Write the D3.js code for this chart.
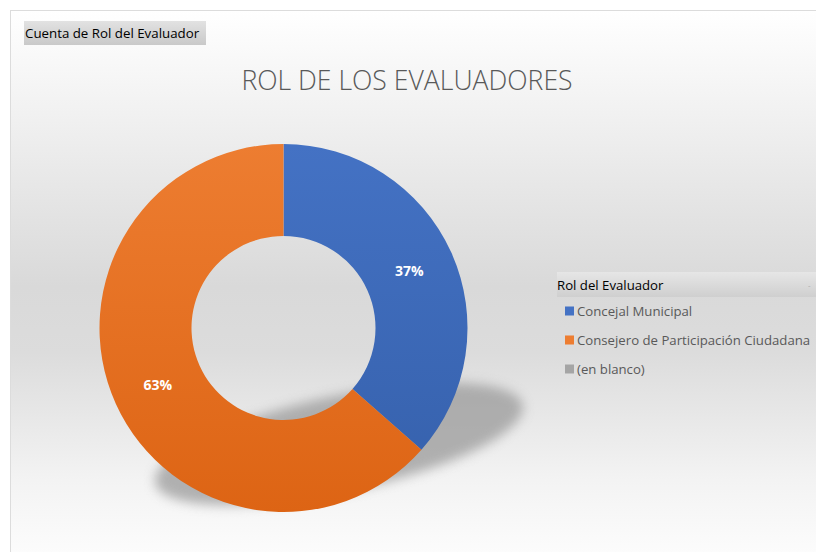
<!DOCTYPE html>
<html>
<head>
<meta charset="utf-8">
<script src="https://cdn.jsdelivr.net/npm/d3@7"></script>
<style>
  html, body { margin: 0; padding: 0; background: #fff; }
  svg { display: block; }
</style>
</head>
<body>
<div id="chart"></div>
<script>
// data
const categories = ["Concejal Municipal", "Consejero de Participación Ciudadana", "(en blanco)"];
const counts = [23, 40, 0];
const colors = ["#4472C4", "#ED7D31", "#A5A5A5"];
const darkColors = ["#3560AB", "#DD6414", "#8c8c8c"];
const title = "ROL DE LOS EVALUADORES";
const fieldLabel = "Cuenta de Rol del Evaluador";
const legendTitle = "Rol del Evaluador";

const W = 816, H = 552;
const cx = 283.5, cy = 328, outerR = 184, innerR = 92;

const svg = d3.select("#chart").append("svg")
  .attr("width", W)
  .attr("height", H);

const defs = svg.append("defs");

// chart area background: light top, grey middle, light bottom
const bg = defs.append("linearGradient")
  .attr("id", "bg").attr("x1", 0).attr("y1", 0).attr("x2", 0).attr("y2", 1);
[[0, "#ffffff"], [0.2, "#f0f0f0"], [0.5, "#d9d9d9"], [0.62, "#dcdcdc"], [0.85, "#f3f3f3"], [1, "#fdfdfd"]]
  .forEach(s => bg.append("stop").attr("offset", s[0]).attr("stop-color", s[1]));

const btn = defs.append("linearGradient")
  .attr("id", "btn").attr("x1", 0).attr("y1", 0).attr("x2", 0).attr("y2", 1);
btn.append("stop").attr("offset", 0).attr("stop-color", "#e2e2e2");
btn.append("stop").attr("offset", 1).attr("stop-color", "#c9c9c9");

const hdr = defs.append("linearGradient")
  .attr("id", "hdr").attr("x1", 0).attr("y1", 0).attr("x2", 0).attr("y2", 1);
hdr.append("stop").attr("offset", 0).attr("stop-color", "#e6e6e6");
hdr.append("stop").attr("offset", 1).attr("stop-color", "#cfcfcf");

// vertical gradient per slice, across the whole donut (local coords of the donut group)
colors.forEach((c, i) => {
  const g = defs.append("linearGradient")
    .attr("id", "slice" + i)
    .attr("gradientUnits", "userSpaceOnUse")
    .attr("x1", 0).attr("y1", -outerR).attr("x2", 0).attr("y2", outerR);
  g.append("stop").attr("offset", 0).attr("stop-color", c);
  g.append("stop").attr("offset", 1).attr("stop-color", darkColors[i]);
});

defs.append("filter").attr("id", "blur")
  .attr("x", "-20%").attr("y", "-50%").attr("width", "140%").attr("height", "200%")
  .append("feGaussianBlur").attr("stdDeviation", 6);

// outer frame
svg.append("rect")
  .attr("x", 10.5).attr("y", 10.5)
  .attr("width", W).attr("height", H)
  .attr("fill", "url(#bg)")
  .attr("stroke", "#dcdcdc");

// field button top-left
svg.append("rect")
  .attr("x", 24).attr("y", 21).attr("width", 182).attr("height", 24)
  .attr("fill", "url(#btn)");
svg.append("text")
  .attr("x", 25).attr("y", 38)
  .attr("font-family", "Open Sans, sans-serif")
  .attr("font-size", 13.3)
  .attr("fill", "#000")
  .text(fieldLabel);

// title
svg.append("text")
  .attr("x", 407).attr("y", 90)
  .attr("text-anchor", "middle")
  .attr("font-family", "Open Sans, sans-serif")
  .attr("font-weight", 300)
  .attr("font-size", 26.6)
  .attr("fill", "#595959")
  .text(title);

// perspective shadow
svg.append("ellipse")
  .attr("cx", 339).attr("cy", 444)
  .attr("rx", 188).attr("ry", 48)
  .attr("transform", "rotate(-12 339 444)")
  .attr("fill", "#9a9a9a")
  .attr("opacity", 0.75)
  .attr("filter", "url(#blur)");

const total = d3.sum(counts);
const pie = d3.pie().sort(null).value(d => d)(counts);
const arc = d3.arc().innerRadius(innerR).outerRadius(outerR);
const midR = (innerR + outerR) / 2;
const labelArc = d3.arc().innerRadius(midR).outerRadius(midR);

const donut = svg.append("g").attr("transform", `translate(${cx},${cy})`);

donut.selectAll("path")
  .data(pie.filter(d => d.value > 0))
  .enter().append("path")
  .attr("d", arc)
  .attr("fill", d => `url(#slice${d.index})`);

donut.selectAll("text")
  .data(pie.filter(d => d.value > 0))
  .enter().append("text")
  .attr("transform", d => `translate(${labelArc.centroid(d)})`)
  .attr("text-anchor", "middle")
  .attr("dy", "0.35em")
  .attr("font-family", "Open Sans, sans-serif")
  .attr("font-weight", 700)
  .attr("font-size", 14)
  .attr("fill", "#fff")
  .text(d => d3.format(".0%")(d.value / total));

// legend
svg.append("rect")
  .attr("x", 557).attr("y", 272).attr("width", 270).attr("height", 25)
  .attr("fill", "url(#hdr)");
svg.append("text")
  .attr("x", 557).attr("y", 290)
  .attr("font-family", "Open Sans, sans-serif")
  .attr("font-size", 13.2)
  .attr("fill", "#000")
  .text(legendTitle);
svg.append("text")
  .attr("x", 808).attr("y", 288)
  .attr("font-family", "Open Sans, sans-serif")
  .attr("font-size", 8)
  .attr("fill", "#aaa")
  .text("-");

const ly = d3.scalePoint().domain(categories).range([311, 369]);
const legend = svg.selectAll("g.legend")
  .data(categories)
  .enter().append("g")
  .attr("class", "legend")
  .attr("transform", d => `translate(565,${ly(d)})`);
legend.append("rect")
  .attr("x", 0).attr("y", -4.5).attr("width", 9).attr("height", 9)
  .attr("fill", (d, i) => colors[i]);
legend.append("text")
  .attr("x", 12).attr("y", 0)
  .attr("dy", "0.35em")
  .attr("font-family", "Open Sans, sans-serif")
  .attr("font-size", 13.2)
  .attr("fill", "#595959")
  .text(d => d);
</script>
</body>
</html>
